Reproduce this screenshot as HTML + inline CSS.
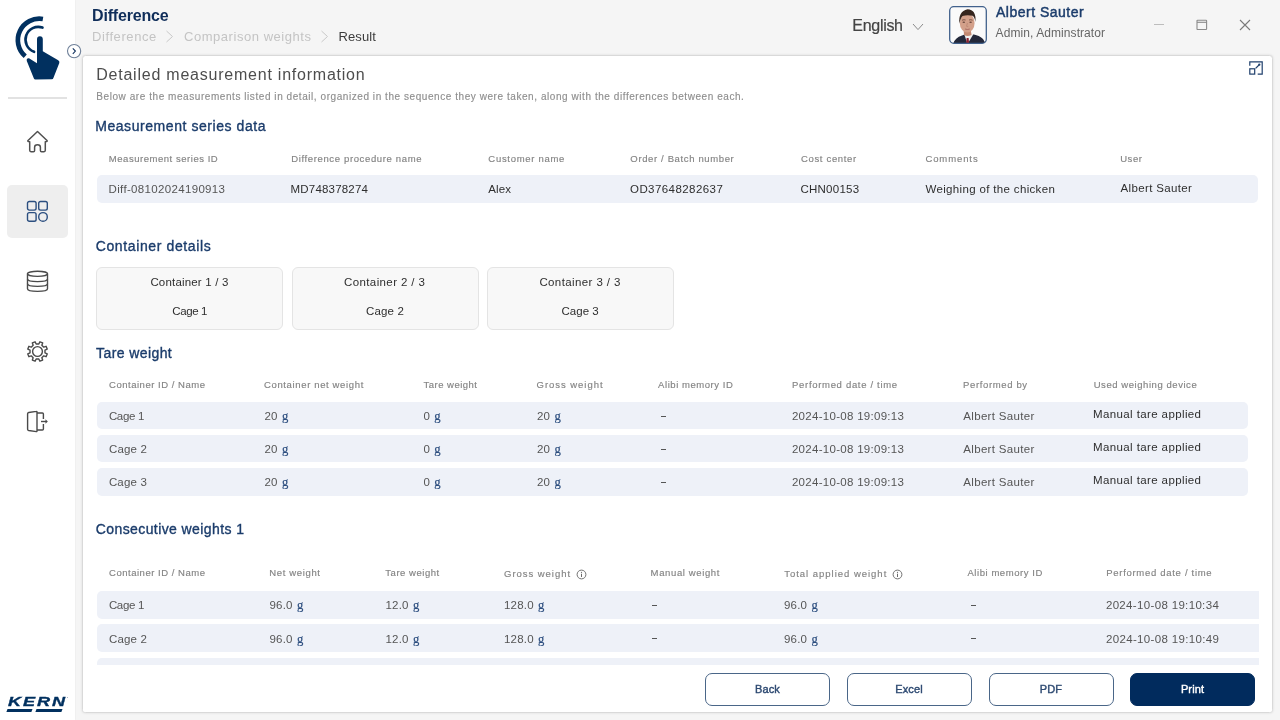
<!DOCTYPE html>
<html><head><meta charset="utf-8">
<style>
*{box-sizing:border-box;margin:0;padding:0}
html,body{width:1280px;height:720px;overflow:hidden}
body{background:#f5f5f5;font-family:"Liberation Sans",Arial,sans-serif;color:#444;position:relative}
.abs{position:absolute;white-space:nowrap}
#side{position:absolute;left:0;top:0;width:74.5px;height:720px;background:#fff;box-shadow:0.5px 0 1.5px rgba(0,0,0,0.06)}
.navsel{position:absolute;left:7px;top:185px;width:61px;height:53px;background:#eeeeee;border-radius:5px}
.ico{position:absolute}
#card{position:absolute;left:82px;top:55px;width:1191px;height:658px;background:#fff;border:1px solid #d9d9d9;border-radius:3.5px;box-shadow:0 0 2.5px rgba(0,0,0,.12);overflow:hidden}
.t{position:absolute;white-space:nowrap;line-height:1}
.sec{color:#1b3c6b;font-size:14px;letter-spacing:0.5px;-webkit-text-stroke:0.35px #1b3c6b}
.hd{color:#848484;font-size:9.5px;letter-spacing:0.47px;-webkit-text-stroke:0.15px #848484}
.row{position:absolute;background:#eef1f8;border-radius:5px}
.v{color:#555;font-size:11.5px;letter-spacing:0.2px}
.vd{color:#2e2e2e}
.dash{position:absolute;width:5.2px;height:1.2px;background:#555}
.g{font-family:"Liberation Serif",serif;color:#2b4d7e;font-size:12.6px;line-height:0;margin-left:0.8px;-webkit-text-stroke:0.2px #2b4d7e}
.cbox{position:absolute;top:211px;width:187px;height:63px;background:#f8f8f8;border:1px solid #e4e4e4;border-radius:6px}
.btn{position:absolute;top:616.5px;width:125px;height:33px;border:1.4px solid #4a6688;border-radius:7px;color:#2e4a72;font-size:11px;text-align:center;line-height:31.5px;letter-spacing:0.1px;-webkit-text-stroke:0.4px #2e4a72}
</style></head><body>
<div id="app" style="position:absolute;left:0;top:0;width:1280px;height:720px;will-change:transform">
<div id="side">
  <!-- logo -->
  <svg class="ico" style="left:0;top:0" width="75" height="90" viewBox="0 0 75 90">
    <path d="M42.9 18.95 A21.45 21.45 0 0 0 25.23 56.29" fill="none" stroke="#01305f" stroke-width="4.7"/>
    <path d="M42.5 27.6 A12.8 12.8 0 0 0 34.1 51.8" fill="none" stroke="#01305f" stroke-width="2.6" stroke-linecap="round"/>
    <path d="M37 39.2 A2.9 2.9 0 0 1 42.8 39.2 L42.8 51.25 L58.2 60.3 Q59.9 61.3 59.3 62.9 L53.4 78 Q53 79.2 51.8 79.2 L35.4 79.4 Q34.3 79.4 33.9 78.4 L26.8 61 Q26.2 58 29 58.3 L37 63.2 Z" fill="#01305f"/>
  </svg>
  <div class="abs" style="left:8px;top:97px;width:59px;height:2px;background:#e2e2e2"></div>
  <!-- home -->
  <svg class="ico" style="left:26px;top:130px" width="23" height="23" viewBox="0 0 23 23">
    <path d="M11.5 1.5 L21 10.5 Q21.5 11.3 20.5 11.6 L19.3 11.8 V20.3 Q19.3 21.7 18 21.7 H15.6 Q14.4 21.7 14.4 20.4 V17.3 Q14.4 14.8 11.5 14.8 Q8.6 14.8 8.6 17.3 V20.4 Q8.6 21.7 7.4 21.7 H5 Q3.7 21.7 3.7 20.3 V11.8 L2.5 11.6 Q1.5 11.3 2 10.5 Z" fill="none" stroke="#505050" stroke-width="1.5" stroke-linejoin="round"/>
  </svg>
  <div class="navsel"></div>
  <!-- grid -->
  <svg class="ico" style="left:26px;top:200px" width="23" height="23" viewBox="0 0 23 23">
    <g fill="none" stroke="#2c4f80" stroke-width="1.4">
      <rect x="1.5" y="1.5" width="8.6" height="8.6" rx="1.8"/>
      <rect x="12.7" y="1.5" width="8.6" height="8.6" rx="1.8"/>
      <rect x="1.5" y="12.6" width="8.6" height="8.6" rx="1.8"/>
      <circle cx="17" cy="16.9" r="4.3"/>
    </g>
  </svg>
  <!-- database -->
  <svg class="ico" style="left:26px;top:270px" width="23" height="23" viewBox="0 0 23 23">
    <g fill="none" stroke="#4a4a4a" stroke-width="1.4">
      <ellipse cx="11.5" cy="3.8" rx="10" ry="2.6"/>
      <path d="M1.5 3.8 V18.8 Q1.5 21.4 11.5 21.4 Q21.5 21.4 21.5 18.8 V3.8"/>
      <path d="M1.5 9 Q1.5 11.6 11.5 11.6 Q21.5 11.6 21.5 9"/>
      <path d="M1.5 13.8 Q1.5 16.4 11.5 16.4 Q21.5 16.4 21.5 13.8"/>
    </g>
  </svg>
  <!-- gear -->
  <svg class="ico" style="left:26px;top:340px" width="23" height="23" viewBox="-11.5 -11.5 23 23">
    <g fill="none" stroke="#4a4a4a" stroke-width="1.4" stroke-linejoin="round">
      <path d="M1.34 -7.48 L2.41 -9.71 L5.16 -8.57 L4.35 -6.24 L6.24 -4.35 L8.57 -5.16 L9.71 -2.41 L7.48 -1.34 L7.48 1.34 L9.71 2.41 L8.57 5.16 L6.24 4.35 L4.35 6.24 L5.16 8.57 L2.41 9.71 L1.34 7.48 L-1.34 7.48 L-2.41 9.71 L-5.16 8.57 L-4.35 6.24 L-6.24 4.35 L-8.57 5.16 L-9.71 2.41 L-7.48 1.34 L-7.48 -1.34 L-9.71 -2.41 L-8.57 -5.16 L-6.24 -4.35 L-4.35 -6.24 L-5.16 -8.57 L-2.41 -9.71 L-1.34 -7.48 Z"/>
      <circle cx="0" cy="0" r="4.9"/>
    </g>
  </svg>
  <!-- exit -->
  <svg class="ico" style="left:26px;top:410px" width="23" height="23" viewBox="0 0 23 23">
    <g fill="none" stroke="#4a4a4a" stroke-width="1.4" stroke-linejoin="round">
      <path d="M1.6 3.8 Q1.6 2.7 2.7 2.5 L10.4 1.4 Q11 1.3 11 2 V21 Q11 21.7 10.4 21.6 L2.7 20.5 Q1.6 20.3 1.6 19.2 Z"/>
      <path d="M11 3 H16.4 Q17.4 3 17.4 4 V9"/>
      <path d="M11 20 H16.4 Q17.4 20 17.4 19 V14"/>
      <path d="M15 11.5 H20"/>
    </g>
    <path d="M19.5 9.3 L21.8 11.5 L19.5 13.7 Z" fill="#4a4a4a"/>
  </svg>
  <!-- KERN -->
  <div class="abs" style="left:8.3px;top:694.9px;font-size:13.2px;font-weight:bold;font-style:italic;color:#01305f;letter-spacing:1.45px;line-height:1;transform:scaleX(1.37);transform-origin:0 0;-webkit-text-stroke:0.35px #01305f">KERN</div>
  <div class="abs" style="left:67px;top:696.5px;width:1.2px;height:1.2px;border-radius:50%;background:#8a9ab0"></div>
  <div class="abs" style="left:7.3px;top:709px;width:25px;height:2.6px;background:#01305f;transform:skewX(-20deg)"></div>
  <div class="abs" style="left:36px;top:709px;width:26px;height:2.6px;background:#01305f;transform:skewX(-20deg)"</div>
</div>
<!-- collapse button -->
<svg class="ico" style="left:66px;top:43px" width="17" height="17" viewBox="0 0 17 17">
  <circle cx="8.1" cy="8.1" r="6.6" fill="#fff" stroke="#6f8099" stroke-width="1.1"/>
  <path d="M6.8 5.4 L9.4 8.1 L6.8 10.8" fill="none" stroke="#12325e" stroke-width="1.1"/>
</svg>

<!-- header -->
<div class="t" style="letter-spacing:-0.202px;left:92.11px;top:8px;font-size:16px;font-weight:bold;color:#0f2d59;">Difference</div>
<div class="t" style="letter-spacing:0.596px;left:91.94px;top:30px;font-size:13px;color:#c4c4c4;">Difference</div>
<svg class="ico" style="left:165px;top:30px" width="10" height="13" viewBox="0 0 10 13"><path d="M1.5 1 L7.5 6.5 L1.5 12" fill="none" stroke="#c8c8c8" stroke-width="1"/></svg>
<div class="t" style="letter-spacing:0.538px;left:184.02px;top:30px;font-size:13px;color:#c4c4c4;">Comparison weights</div>
<svg class="ico" style="left:320px;top:30px" width="10" height="13" viewBox="0 0 10 13"><path d="M1.5 1 L7.5 6.5 L1.5 12" fill="none" stroke="#c8c8c8" stroke-width="1"/></svg>
<div class="t" style="letter-spacing:0.108px;left:338.45px;top:30px;font-size:13px;color:#3c3c3c;">Result</div>

<div class="t" style="letter-spacing:-0.312px;left:852.36px;top:18px;font-size:16px;color:#444;-webkit-text-stroke:0.2px #444">English</div>
<svg class="ico" style="left:911.5px;top:23px" width="12" height="9" viewBox="0 0 12 9"><path d="M1 1 L6 6.6 L11 1" fill="none" stroke="#8a8a8a" stroke-width="1"/></svg>

<!-- avatar -->
<svg class="ico" style="left:949px;top:6px" width="38" height="38" viewBox="0 0 38 38">
  <defs><clipPath id="av"><rect x="0.75" y="0.75" width="36.5" height="36.5" rx="4"/></clipPath></defs>
  <g clip-path="url(#av)">
    <rect width="38" height="38" fill="#fafafa"/>
    <path d="M4 38 Q6 31.5 13 29.5 L18 27.5 L23 28 Q31 29.5 34 33 L37 38 Z" fill="#23283a"/>
    <path d="M15 27.5 L18.5 38 L24.5 28 Z" fill="#f0f0f0"/>
    <path d="M17.6 32 L19.6 32 L20.2 38 L17.2 38 Z" fill="#8a2330"/>
    <path d="M14.5 22 L21.5 22 L22.5 29 Q18.5 31 15 29 Z" fill="#c48a72"/>
    <ellipse cx="18.2" cy="17" rx="7.4" ry="9.4" fill="#d3a08a"/>
    <ellipse cx="14.8" cy="16.3" rx="1.3" ry="0.7" fill="#6b4a40"/>
    <ellipse cx="21.6" cy="16.3" rx="1.3" ry="0.7" fill="#6b4a40"/>
    <path d="M13 14.2 Q15 13.3 16.6 14 M20 14 Q21.8 13.3 23.6 14.2" stroke="#5a3a2e" stroke-width="0.7" fill="none"/>
    <path d="M18.4 17 L17.6 20.3 Q18.4 20.8 19.3 20.4" stroke="#b07a66" stroke-width="0.6" fill="none"/>
    <path d="M16 23 Q18.4 24 20.8 23" stroke="#a0605a" stroke-width="0.8" fill="none"/>
    <path d="M10.4 17.5 Q9 5.5 18.5 3.2 Q27.5 3.5 26.4 16 Q25.7 11 23.5 9.8 Q18.5 8.5 13.5 10 Q11.5 12 10.4 17.5 Z" fill="#35251e"/>
  </g>
  <rect x="0.7" y="0.7" width="36.6" height="36.6" rx="4" fill="none" stroke="#41618c" stroke-width="1.3"/>
</svg>
<div class="t" style="letter-spacing:0.508px;left:995.93px;top:5px;font-size:14px;color:#1b3c6b;-webkit-text-stroke:0.45px #1b3c6b">Albert Sauter</div>
<div class="t" style="letter-spacing:0.077px;left:995.60px;top:27px;font-size:12px;color:#666;">Admin, Adminstrator</div>

<!-- window controls -->
<div class="abs" style="left:1154px;top:24px;width:9.5px;height:1.2px;background:#bdbdbd"></div>
<svg class="ico" style="left:1196px;top:19px" width="12" height="12" viewBox="0 0 12 12"><rect x="1" y="1.2" width="9.6" height="9.3" rx="0.6" fill="none" stroke="#8a8a8a" stroke-width="1.1"/><path d="M1 3.3 H10.6" stroke="#8a8a8a" stroke-width="1.1"/></svg>
<svg class="ico" style="left:1239px;top:19px" width="12" height="12" viewBox="0 0 12 12"><path d="M1 1 L11 11 M11 1 L1 11" stroke="#7a7a7a" stroke-width="1.1"/></svg>

<div id="card">
  <!-- coordinates inside card: page x - 83, page y - 56 -->
  <div class="t" style="letter-spacing:0.772px;left:13.20px;top:11px;font-size:16px;color:#4d4d4d;">Detailed measurement information</div>
  <div class="t" style="letter-spacing:0.561px;left:13.32px;top:36px;font-size:10px;color:#8f8f8f;-webkit-text-stroke:0.15px #8f8f8f">Below are the measurements listed in detail, organized in the sequence they were taken, along with the differences between each.</div>
  <svg class="ico" style="left:1166px;top:5px" width="15" height="15" viewBox="0 0 15 15">
    <g fill="none" stroke="#1f3f6c" stroke-width="1.2">
      <path d="M0.8 4.8 V0.8 H13.2 V13.1 H8.7"/>
      <rect x="0.8" y="7.8" width="4.9" height="5.3"/>
      <path d="M6.6 7.4 L10 4"/>
    </g>
    <circle cx="10.3" cy="3.7" r="1.15" fill="#1f3f6c"/>
  </svg>

  <div class="t sec" style="letter-spacing:0.561px;left:12.18px;top:63px">Measurement series data</div>
  <div class="t hd" style="letter-spacing:0.535px;left:25.83px;top:98px">Measurement series ID</div>
  <div class="t hd" style="letter-spacing:0.643px;left:208.14px;top:98px">Difference procedure name</div>
  <div class="t hd" style="letter-spacing:0.703px;left:405.37px;top:98px">Customer name</div>
  <div class="t hd" style="letter-spacing:0.636px;left:547.36px;top:98px">Order / Batch number</div>
  <div class="t hd" style="letter-spacing:0.677px;left:717.90px;top:98px">Cost center</div>
  <div class="t hd" style="letter-spacing:0.906px;left:842.40px;top:98px">Comments</div>
  <div class="t hd" style="letter-spacing:0.560px;left:1037.18px;top:98px">User</div>
  <div class="row" style="left:14px;top:119px;width:1161px;height:27.5px"></div>
  <div class="t v" style="letter-spacing:0.332px;left:25.58px;top:128px">Diff-08102024190913</div>
  <div class="t v vd" style="letter-spacing:0.190px;left:207.60px;top:128px">MD748378274</div>
  <div class="t v vd" style="letter-spacing:0.151px;left:405.28px;top:128px">Alex</div>
  <div class="t v vd" style="letter-spacing:0.432px;left:547.01px;top:128px">OD37648282637</div>
  <div class="t v vd" style="letter-spacing:0.266px;left:717.39px;top:128px">CHN00153</div>
  <div class="t v vd" style="letter-spacing:0.338px;left:842.51px;top:128px">Weighing of the chicken</div>
  <div class="t v vd" style="letter-spacing:0.346px;left:1037.58px;top:127px">Albert Sauter</div>

  <div class="t sec" style="letter-spacing:0.621px;left:12.71px;top:183px">Container details</div>
  <div class="cbox" style="left:13px"></div>
  <div class="cbox" style="left:208.5px"></div>
  <div class="cbox" style="left:404px"></div>
  <div class="t v vd" style="letter-spacing:0.183px;left:67.39px;top:221px">Container 1 / 3</div>
  <div class="t v vd" style="letter-spacing:-0.395px;left:89.31px;top:250px">Cage 1</div>
  <div class="t v vd" style="letter-spacing:0.391px;left:260.99px;top:221px">Container 2 / 3</div>
  <div class="t v vd" style="letter-spacing:0.147px;left:283.01px;top:250px">Cage 2</div>
  <div class="t v vd" style="letter-spacing:0.398px;left:456.39px;top:221px">Container 3 / 3</div>
  <div class="t v vd" style="letter-spacing:0.022px;left:478.49px;top:250px">Cage 3</div>

  <div class="t sec" style="letter-spacing:0.406px;left:13.09px;top:289.5px">Tare weight</div>
  <div class="t hd" style="letter-spacing:0.524px;left:26.00px;top:323.5px">Container ID / Name</div>
  <div class="t hd" style="letter-spacing:0.639px;left:181.00px;top:323.5px">Container net weight</div>
  <div class="t hd" style="letter-spacing:0.481px;left:340.58px;top:323.5px">Tare weight</div>
  <div class="t hd" style="letter-spacing:0.954px;left:453.61px;top:323.5px">Gross weight</div>
  <div class="t hd" style="letter-spacing:0.551px;left:575.10px;top:323.5px">Alibi memory ID</div>
  <div class="t hd" style="letter-spacing:0.684px;left:709.09px;top:323.5px">Performed date / time</div>
  <div class="t hd" style="letter-spacing:0.631px;left:880.09px;top:323.5px">Performed by</div>
  <div class="t hd" style="letter-spacing:0.560px;left:1010.67px;top:323.5px">Used weighing device</div>
  <div class="row" style="left:14px;top:346.0px;width:1150.5px;height:27.3px"></div>
  <div class="t v" style="letter-spacing:-0.313px;left:25.89px;top:354.5px;">Cage 1</div>
  <div class="t v" style="left:181.5px;top:354.5px;">20 <span class="g">g</span></div>
  <div class="t v" style="left:340.5px;top:354.5px;">0 <span class="g">g</span></div>
  <div class="t v" style="left:454.0px;top:354.5px;">20 <span class="g">g</span></div>
  <div class="dash" style="left:578.3px;top:360px"></div>
  <div class="t v" style="letter-spacing:0.291px;left:708.91px;top:354.5px;">2024-10-08 19:09:13</div>
  <div class="t v" style="letter-spacing:0.325px;left:880.29px;top:354.5px;">Albert Sauter</div>
  <div class="t v vd" style="letter-spacing:0.389px;left:1010.00px;top:353.0px;">Manual tare applied</div>
  <div class="row" style="left:14px;top:379.2px;width:1150.5px;height:27.3px"></div>
  <div class="t v" style="letter-spacing:0.207px;left:25.88px;top:387.7px;">Cage 2</div>
  <div class="t v" style="left:181.5px;top:387.7px;">20 <span class="g">g</span></div>
  <div class="t v" style="left:340.5px;top:387.7px;">0 <span class="g">g</span></div>
  <div class="t v" style="left:454.0px;top:387.7px;">20 <span class="g">g</span></div>
  <div class="dash" style="left:578.3px;top:393px"></div>
  <div class="t v" style="letter-spacing:0.291px;left:708.91px;top:387.7px;">2024-10-08 19:09:13</div>
  <div class="t v" style="letter-spacing:0.325px;left:880.29px;top:387.7px;">Albert Sauter</div>
  <div class="t v vd" style="letter-spacing:0.389px;left:1010.00px;top:386.2px;">Manual tare applied</div>
  <div class="row" style="left:14px;top:412.4px;width:1150.5px;height:27.3px"></div>
  <div class="t v" style="letter-spacing:0.194px;left:25.88px;top:420.9px;">Cage 3</div>
  <div class="t v" style="left:181.5px;top:420.9px;">20 <span class="g">g</span></div>
  <div class="t v" style="left:340.5px;top:420.9px;">0 <span class="g">g</span></div>
  <div class="t v" style="left:454.0px;top:420.9px;">20 <span class="g">g</span></div>
  <div class="dash" style="left:578.3px;top:426px"></div>
  <div class="t v" style="letter-spacing:0.291px;left:708.91px;top:420.9px;">2024-10-08 19:09:13</div>
  <div class="t v" style="letter-spacing:0.325px;left:880.29px;top:420.9px;">Albert Sauter</div>
  <div class="t v vd" style="letter-spacing:0.389px;left:1010.00px;top:419.4px;">Manual tare applied</div>

  <div class="t sec" style="letter-spacing:0.406px;left:12.76px;top:465.5px">Consecutive weights 1</div>
  <div class="t hd" style="letter-spacing:0.524px;left:26.00px;top:512px">Container ID / Name</div>
  <div class="t hd" style="letter-spacing:0.642px;left:186.32px;top:512px">Net weight</div>
  <div class="t hd" style="letter-spacing:0.531px;left:302.33px;top:512px">Tare weight</div>
  <div class="t hd" style="letter-spacing:0.954px;left:421.11px;top:512.8px">Gross weight</div>
  <svg class="ico" style="left:492.5px;top:512.8px" width="11" height="11" viewBox="0 0 11 11"><circle cx="5.5" cy="5.5" r="4.4" fill="none" stroke="#6a6a6a" stroke-width="0.95"/><circle cx="5.5" cy="3.3" r="0.65" fill="#6a6a6a"/><path d="M5.5 4.7 V8" stroke="#6a6a6a" stroke-width="1.05"/></svg>
  <div class="t hd" style="letter-spacing:0.628px;left:567.62px;top:512px">Manual weight</div>
  <div class="t hd" style="letter-spacing:0.982px;left:701.18px;top:512.8px">Total applied weight</div>
  <svg class="ico" style="left:809.0px;top:512.8px" width="11" height="11" viewBox="0 0 11 11"><circle cx="5.5" cy="5.5" r="4.4" fill="none" stroke="#6a6a6a" stroke-width="0.95"/><circle cx="5.5" cy="3.3" r="0.65" fill="#6a6a6a"/><path d="M5.5 4.7 V8" stroke="#6a6a6a" stroke-width="1.05"/></svg>
  <div class="t hd" style="letter-spacing:0.552px;left:884.49px;top:512px">Alibi memory ID</div>
  <div class="t hd" style="letter-spacing:0.696px;left:1023.34px;top:512px">Performed date / time</div>
  <div style="position:absolute;left:14px;top:526px;width:1162.2px;height:83.4px;overflow:hidden">
  <div class="row" style="left:0px;top:8.8px;width:1250px;height:27.9px"></div>
  <div class="t v" style="letter-spacing:-0.313px;left:11.89px;top:18.1px">Cage 1</div>
  <div class="t v" style="left:172.5px;top:18.1px">96.0 <span class="g">g</span></div>
  <div class="t v" style="left:288.5px;top:18.1px">12.0 <span class="g">g</span></div>
  <div class="t v" style="left:407.0px;top:18.1px">128.0 <span class="g">g</span></div>
  <div class="dash" style="left:554.7px;top:23px"></div>
  <div class="t v" style="left:687.0px;top:18.1px">96.0 <span class="g">g</span></div>
  <div class="dash" style="left:873.9px;top:23px"></div>
  <div class="t v" style="letter-spacing:0.338px;left:1008.91px;top:18.1px">2024-10-08 19:10:34</div>
  <div class="row" style="left:0px;top:42.2px;width:1250px;height:27.9px"></div>
  <div class="t v" style="letter-spacing:0.207px;left:11.88px;top:51.5px">Cage 2</div>
  <div class="t v" style="left:172.5px;top:51.5px">96.0 <span class="g">g</span></div>
  <div class="t v" style="left:288.5px;top:51.5px">12.0 <span class="g">g</span></div>
  <div class="t v" style="left:407.0px;top:51.5px">128.0 <span class="g">g</span></div>
  <div class="dash" style="left:554.7px;top:56px"></div>
  <div class="t v" style="left:687.0px;top:51.5px">96.0 <span class="g">g</span></div>
  <div class="dash" style="left:873.9px;top:56px"></div>
  <div class="t v" style="letter-spacing:0.349px;left:1008.91px;top:51.5px">2024-10-08 19:10:49</div>
  <div class="row" style="left:0px;top:75.6px;width:1250px;height:27.9px"></div>
  <div class="t v" style="left:12.5px;top:84.9px">Cage 3</div>
  <div class="t v" style="left:172.5px;top:84.9px">96.0 <span class="g">g</span></div>
  <div class="t v" style="left:288.5px;top:84.9px">12.0 <span class="g">g</span></div>
  <div class="t v" style="left:407.0px;top:84.9px">128.0 <span class="g">g</span></div>
  <div class="dash" style="left:554.7px;top:90px"></div>
  <div class="t v" style="left:687.0px;top:84.9px">96.0 <span class="g">g</span></div>
  <div class="dash" style="left:873.9px;top:90px"></div>
  <div class="t v" style="left:1009.5px;top:84.9px">2024-10-08 19:11:02</div>
  </div>

  <div class="abs" style="left:0;top:610px;width:1191px;height:50px;background:#fff"></div>
  <div class="btn" style="left:622px">Back</div>
  <div class="btn" style="left:763.5px">Excel</div>
  <div class="btn" style="left:905.5px">PDF</div>
  <div class="btn" style="left:1047px;background:#012b5d;border-color:#012b5d;color:#fff;-webkit-text-stroke:0.4px #fff">Print</div>
</div>
</div>
</body></html>
